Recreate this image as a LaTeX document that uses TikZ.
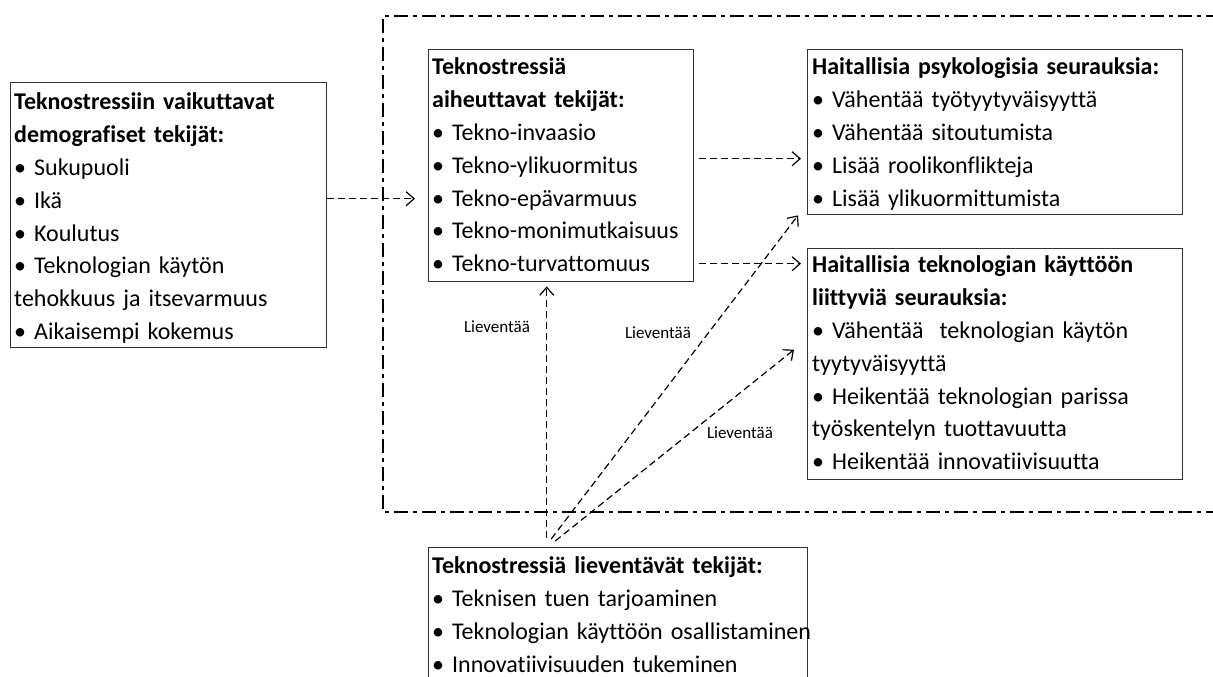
\documentclass[tikz,border=0pt]{standalone}
\usepackage{fontspec}
\setmainfont{Carlito}[Ligatures=NoCommon, WordSpace=0.85]
\usetikzlibrary{arrows.meta}
\tikzset{
  frame/.style={line width=2.4pt, dash pattern=on 14pt off 5pt on 4pt off 5pt},
  boxnode/.style={draw=black!80, line width=1.4pt, anchor=north west, inner sep=0pt},
  txt/.style={anchor=north west, inner sep=0pt, align=left, font=\fontsize{24}{32.8}\selectfont},
  conn/.style={line width=1.2pt, dash pattern=on 7pt off 4pt, -{Straight Barb[length=8pt,width=14pt]}},
  lbl/.style={font=\fontsize{17}{20}\selectfont, inner sep=0pt},
}
\begin{document}
\begin{tikzpicture}[x=1pt,y=-1pt]
\useasboundingbox (0,0) rectangle (1213,677);
\clip (0,0) rectangle (1213,677);
% frame
\draw[frame] (1220,16) -- (383,16) -- (383,512) -- (1220,512);
% boxes
\node[boxnode, minimum width=316pt, minimum height=265pt] (demo) at (10,82) {};
\node[boxnode, minimum width=265pt, minimum height=232pt] (tekno) at (428,49) {};
\node[boxnode, minimum width=375pt, minimum height=165pt] (psyk) at (807,49) {};
\node[boxnode, minimum width=375pt, minimum height=231pt] (tekn) at (807,248) {};
\node[boxnode, minimum width=379pt, minimum height=170pt] (liev) at (428,547) {};
% texts
\node[txt, text width=310pt] (demotxt) at (14,86.7) {\strut\textbf{Teknostressiin vaikuttavat}\\
\textbf{demografiset tekijät:}\\
• Sukupuoli\\
• Ikä\\
• Koulutus\\
• Teknologian käytön\\
tehokkuus ja itsevarmuus\\
• Aikaisempi kokemus};
\node[txt, text width=262pt] (teknotxt) at (432,51.7) {\strut\textbf{Teknostressiä}\\
\textbf{aiheuttavat tekijät:}\\
• Tekno-invaasio\\
• Tekno-ylikuormitus\\
• Tekno-epävarmuus\\
• Tekno-monimutkaisuus\\
• Tekno-turvattomuus};
\node[txt, text width=370pt] (psyktxt) at (812,51.7) {\strut\textbf{Haitallisia psykologisia seurauksia:}\\
• Vähentää työtyytyväisyyttä\\
• Vähentää sitoutumista\\
• Lisää roolikonflikteja\\
• Lisää ylikuormittumista};
\node[txt, text width=370pt] (tekntxt) at (812,249.7) {\strut\textbf{Haitallisia teknologian käyttöön}\\
\textbf{liittyviä seurauksia:}\\
• Vähentää~ teknologian käytön\\
tyytyväisyyttä\\
• Heikentää teknologian parissa\\
työskentelyn tuottavuutta\\
• Heikentää innovatiivisuutta};
\node[txt, text width=400pt] (lievtxt) at (432,550.7) {\strut\textbf{Teknostressiä lieventävät tekijät:}\\
• Teknisen tuen tarjoaminen\\
• Teknologian käyttöön osallistaminen\\
• Innovatiivisuuden tukeminen};
% connectors
\draw[conn, shorten >=13pt] ([yshift=16.5pt]demo.east) -- ([yshift=-33pt]tekno.west);
\draw[conn, shorten <=5pt, shorten >=6pt] ([yshift=7pt]tekno.east) -- ([yshift=-26.5pt]psyk.west);
\draw[conn, shorten <=5pt, shorten >=6pt] ([yshift=-98pt]tekno.east) -- ([yshift=100.5pt]tekn.west);
\draw[conn, shorten >=4pt] ([xshift=-71.5pt,yshift=9pt]liev.north) -- ([xshift=-14.5pt]tekno.south);
\draw[conn] ([xshift=-67pt,yshift=8pt]liev.north) -- ([xshift=-9pt]psyk.south west);
\draw[conn] ([xshift=-63pt,yshift=6pt]liev.north) -- ([xshift=-13pt,yshift=14.5pt]tekn.west);
% labels
\node[lbl] (l1) at (497,327) {Lieventää};
\node[lbl] (l2) at (658,333) {Lieventää};
\node[lbl] (l3) at (740,433) {Lieventää};
\end{tikzpicture}
\end{document}
